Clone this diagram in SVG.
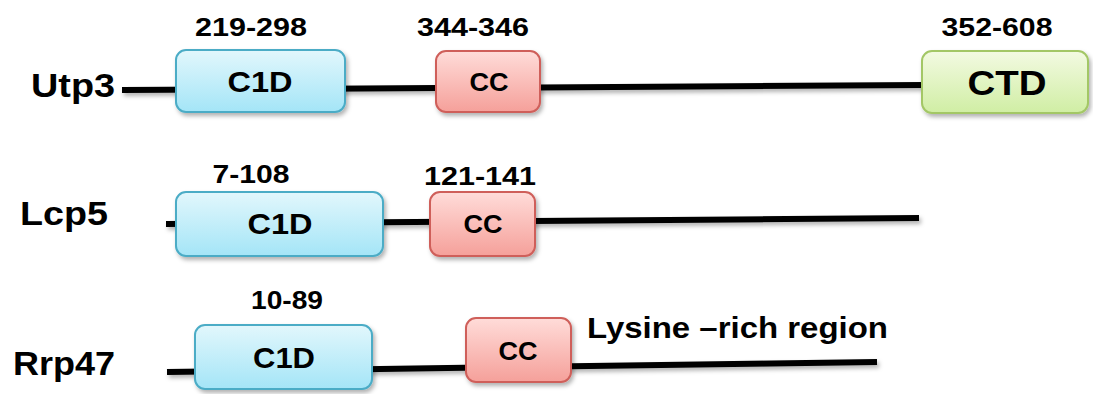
<svg xmlns="http://www.w3.org/2000/svg" width="1093" height="394" viewBox="0 0 1093 394">
  <style>
    text { font-family: "Liberation Sans", Arial, sans-serif; font-weight: bold; fill: #000; }
    .name { font-size: 34px; }
    .range { font-size: 26px; text-anchor: middle; }
    .dom { font-size: 30px; text-anchor: middle; }
    .cc { font-size: 26px; text-anchor: middle; }
    .ctd { font-size: 35px; text-anchor: middle; }
    .c1d-box { fill: url(#gBlue); stroke: #4bacc6; stroke-width: 2; }
    .cc-box { fill: url(#gRed); stroke: #cf5f5a; stroke-width: 2; }
    .ctd-box { fill: url(#gGreen); stroke: #a3c766; stroke-width: 2; }
    .chain { stroke: #000; stroke-width: 6; fill: none; }
  </style>
  <defs>
    <linearGradient id="gBlue" x1="0" y1="0" x2="0" y2="1">
      <stop offset="0" stop-color="#e2f7fc"/>
      <stop offset="1" stop-color="#a4e5f7"/>
    </linearGradient>
    <linearGradient id="gRed" x1="0" y1="0" x2="0" y2="1">
      <stop offset="0" stop-color="#ffdcd9"/>
      <stop offset="1" stop-color="#f5a09a"/>
    </linearGradient>
    <linearGradient id="gGreen" x1="0" y1="0" x2="0" y2="1">
      <stop offset="0" stop-color="#f3fae2"/>
      <stop offset="1" stop-color="#d0eea4"/>
    </linearGradient>
    <filter id="shadow" x="-10%" y="-20%" width="130%" height="160%">
      <feDropShadow dx="2" dy="3" stdDeviation="2" flood-color="#000" flood-opacity="0.3"/>
    </filter>
  </defs>

  <g id="connectors" filter="url(#shadow)">
    <line class="chain" x1="122" y1="90" x2="924" y2="85"/>
    <line class="chain" x1="166" y1="224" x2="919" y2="218"/>
    <line class="chain" x1="167" y1="372" x2="877" y2="362"/>
  </g>

  <g id="utp3">
    <text class="name" x="31" y="97" textLength="84" lengthAdjust="spacingAndGlyphs">Utp3</text>
    <g id="utp3-c1d">
      <rect class="c1d-box" x="176" y="50" width="169" height="62" rx="10" filter="url(#shadow)"/>
      <text class="dom" x="260" y="92" textLength="65" lengthAdjust="spacingAndGlyphs">C1D</text>
      <text class="range" x="251" y="36" textLength="112" lengthAdjust="spacingAndGlyphs">219-298</text>
    </g>
    <g id="utp3-cc">
      <rect class="cc-box" x="436" y="51" width="104" height="61" rx="10" filter="url(#shadow)"/>
      <text class="cc" x="489" y="91" textLength="39" lengthAdjust="spacingAndGlyphs">CC</text>
      <text class="range" x="473" y="36" textLength="112" lengthAdjust="spacingAndGlyphs">344-346</text>
    </g>
    <g id="utp3-ctd">
      <rect class="ctd-box" x="922" y="51" width="166" height="62" rx="10" filter="url(#shadow)"/>
      <text class="ctd" x="1007" y="95" textLength="79" lengthAdjust="spacingAndGlyphs">CTD</text>
      <text class="range" x="997" y="36" textLength="111" lengthAdjust="spacingAndGlyphs">352-608</text>
    </g>
  </g>

  <g id="lcp5">
    <text class="name" x="20" y="225" textLength="88" lengthAdjust="spacingAndGlyphs">Lcp5</text>
    <g id="lcp5-c1d">
      <rect class="c1d-box" x="176" y="192" width="207" height="64" rx="10" filter="url(#shadow)"/>
      <text class="dom" x="280" y="234" textLength="65" lengthAdjust="spacingAndGlyphs">C1D</text>
      <text class="range" x="251" y="183" textLength="77" lengthAdjust="spacingAndGlyphs">7-108</text>
    </g>
    <g id="lcp5-cc">
      <rect class="cc-box" x="430" y="192" width="105" height="64" rx="10" filter="url(#shadow)"/>
      <text class="cc" x="483" y="233" textLength="39" lengthAdjust="spacingAndGlyphs">CC</text>
      <text class="range" x="480" y="185" textLength="112" lengthAdjust="spacingAndGlyphs">121-141</text>
    </g>
  </g>

  <g id="rrp47">
    <text class="name" x="13" y="375" textLength="102" lengthAdjust="spacingAndGlyphs">Rrp47</text>
    <g id="rrp47-c1d">
      <rect class="c1d-box" x="195" y="325" width="177" height="64" rx="10" filter="url(#shadow)"/>
      <text class="dom" x="284" y="368" textLength="62" lengthAdjust="spacingAndGlyphs">C1D</text>
      <text class="range" x="287" y="309" textLength="72" lengthAdjust="spacingAndGlyphs">10-89</text>
    </g>
    <g id="rrp47-cc">
      <rect class="cc-box" x="466" y="318" width="105" height="64" rx="10" filter="url(#shadow)"/>
      <text class="cc" x="518" y="360" textLength="39" lengthAdjust="spacingAndGlyphs">CC</text>
    </g>
    <text id="lysine-label" x="587" y="338" style="font-size:29px" textLength="301" lengthAdjust="spacingAndGlyphs">Lysine –rich region</text>
  </g>
</svg>
